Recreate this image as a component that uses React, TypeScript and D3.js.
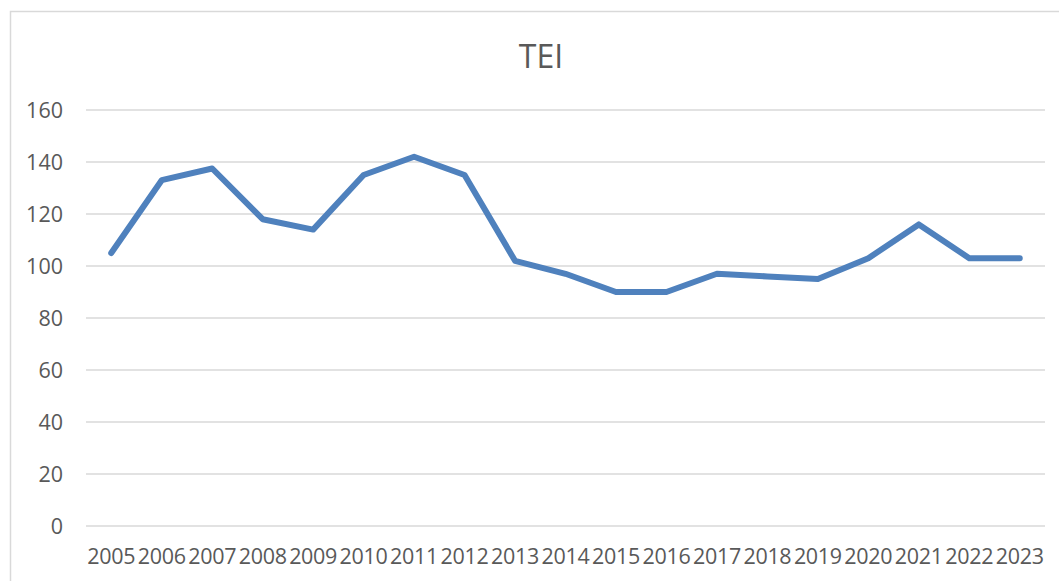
import React from "react";
import * as d3 from "d3";

const years = ["2005","2006","2007","2008","2009","2010","2011","2012","2013","2014","2015","2016","2017","2018","2019","2020","2021","2022","2023"];
const teiValues = [105, 133, 137.5, 118, 114, 135, 142, 135, 102, 97, 90, 90, 97, 96, 95, 103, 116, 103, 103];
const yTicks = [0, 20, 40, 60, 80, 100, 120, 140, 160];
const title = "TEI";

const W = 1059;
const H = 581;
const FONT = "'Open Sans', 'Liberation Sans', sans-serif";

export default function App() {
  const x = d3.scaleBand<string>().domain(years).range([86, 1045]);
  const y = d3.scaleLinear().domain([0, 160]).range([526, 110]);
  const cx = (d: string) => (x(d) as number) + x.bandwidth() / 2;
  const line = d3
    .line<number>()
    .x((_, i) => cx(years[i]))
    .y((v) => y(v));

  return (
    <svg
      width={W}
      height={H}
      style={{ position: "absolute", left: 0, top: 0, background: "#fff" }}
      fontFamily={FONT}
    >
      <rect x={0} y={0} width={W} height={H} fill="#fff" />
      <rect x={10.5} y={11.5} width={W + 20} height={H + 20} fill="none" stroke="#d9d9d9" strokeWidth={1.5} />
      <text x={541} y={68} textAnchor="middle" fontSize={32} fill="#595959">
        {title}
      </text>
      {yTicks.map((t) => (
        <g key={t}>
          <line x1={86} x2={1045} y1={y(t)} y2={y(t)} stroke="#d9d9d9" strokeWidth={1.5} />
          <text x={63} y={y(t)} dy="0.36em" textAnchor="end" fontSize={21.5} fill="#595959">
            {t}
          </text>
        </g>
      ))}
      {years.map((yr) => (
        <text key={yr} x={cx(yr)} y={564} textAnchor="middle" fontSize={21.5} fill="#595959" letterSpacing={-0.3}>
          {yr}
        </text>
      ))}
      <path
        d={line(teiValues) || ""}
        fill="none"
        stroke="#4f81bd"
        strokeWidth={6}
        strokeLinejoin="round"
        strokeLinecap="round"
      />
    </svg>
  );
}
